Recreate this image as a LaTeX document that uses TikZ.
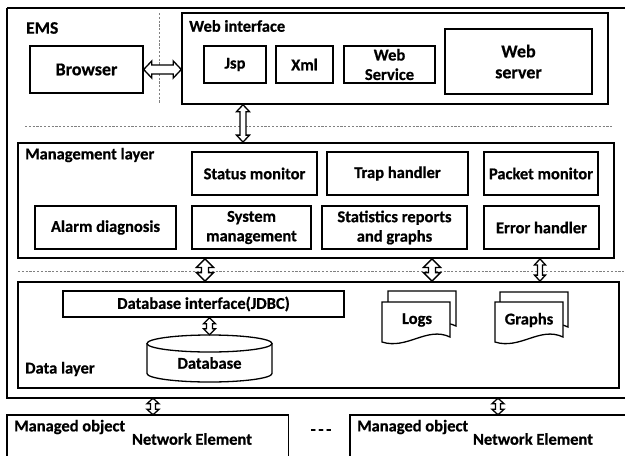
\documentclass[tikz,border=0pt]{standalone}
\usepackage{fontspec}
\setmainfont{Carlito}[BoldFeatures={FakeBold=0.6}]
\usetikzlibrary{calc}
\tikzset{
  txt/.style={font=\bfseries\fontsize{16.5}{19.5}\selectfont},
  lbl/.style={txt, inner sep=0pt, anchor=west},
  box/.style={draw, line width=1.4pt, fill=white, txt, align=center, inner sep=0pt},
  layer/.style={draw, line width=1.8pt, inner sep=0pt},
  frame/.style={line width=1.8pt},
  sepline/.style={draw=gray, dash pattern=on 2.2pt off 1.6pt, line width=0.7pt},
  docbox/.style={draw, line width=1.3pt, fill=white},
  harrow/.style n args={3}{draw, line width=1.3pt, fill=white, to path={
    -- ($(\tikztostart)!#1!(\tikztotarget)!#3!90:(\tikztotarget)$)
    -- ($(\tikztostart)!#1!(\tikztotarget)!#2!90:(\tikztotarget)$)
    -- ($(\tikztotarget)!#1!(\tikztostart)!#2!-90:(\tikztostart)$)
    -- ($(\tikztotarget)!#1!(\tikztostart)!#3!-90:(\tikztostart)$)
    -- (\tikztotarget)
    -- ($(\tikztotarget)!#1!(\tikztostart)!#3!90:(\tikztostart)$)
    -- ($(\tikztotarget)!#1!(\tikztostart)!#2!90:(\tikztostart)$)
    -- ($(\tikztostart)!#1!(\tikztotarget)!#2!-90:(\tikztotarget)$)
    -- ($(\tikztostart)!#1!(\tikztotarget)!#3!-90:(\tikztotarget)$)
    -- cycle}}
}
\newcommand\mydoc[2]{%
  \draw[docbox] (#1,#2) -- ++(68,0) -- ++(0,35)
    .. controls ++(-23,-11) and ++(25,8) .. ++(-68,5) -- cycle;}
\begin{document}
\begin{tikzpicture}[x=1pt,y=-1pt]
\useasboundingbox (0,0) rectangle (625,456);
\fill[white] (0,0) rectangle (625,456);

% EMS outer box (its right side lies beyond the picture)
\node[inner sep=0pt, minimum width=618, minimum height=390] (ems) at (316,203) {};
\draw[frame] (ems.north west) -- (625,0 |- ems.north);
\draw[frame] (ems.north west) -- (ems.south west) -- (625,0 |- ems.south);
\node[lbl, font=\bfseries\fontsize{17.5}{20}\selectfont] (emslbl) at (26,28) {EMS};

% separators
\draw[sepline] (159,13) -- (159,103);
\draw[sepline] (25,126) -- (612,126);
\draw[sepline] (18,271) -- (625,271);

% browser + web interface
\node[box, minimum width=113, minimum height=47, font=\bfseries\fontsize{18}{21}\selectfont] (browser) at (86.5,69.5) {Browser};
\node[layer, line width=1.4pt, minimum width=426, minimum height=91] (web) at (395,58.5) {};
\node[lbl] (weblbl) at (189,26) {Web interface};
\node[box, minimum width=62, minimum height=37] (jsp) at (235,64.5) {Jsp};
\node[box, minimum width=57, minimum height=37] (xml) at (304.5,64.5) {Xml};
\node[box, minimum width=91, minimum height=37] (ws) at (389.5,64.5) {Web\\Service};
\node[box, minimum width=147, minimum height=65, font=\bfseries\fontsize{18}{21}\selectfont] (wsrv) at (518.5,61.5) {Web\\server};

% management layer
\node[layer, minimum width=596, minimum height=115] (mgmt) at (316,200.5) {};
\node[lbl] (mgmtlbl) at (25,155) {Management layer};
\node[box, minimum width=125, minimum height=43] (status) at (254.5,173.5) {Status monitor};
\node[box, minimum width=141, minimum height=43] (trap) at (397.5,173.5) {Trap handler};
\node[box, minimum width=114, minimum height=43] (packet) at (541,173.5) {Packet monitor};
\node[box, minimum width=141, minimum height=43] (alarm) at (105.5,227.5) {Alarm diagnosis};
\node[box, minimum width=119, minimum height=43] (sysm) at (251.5,227.5) {System\\management};
\node[box, minimum width=145, minimum height=43] (stats) at (394.5,227.5) {Statistics reports\\and graphs};
\node[box, minimum width=115, minimum height=43] (err) at (541.5,227.5) {Error handler};

% data layer
\node[layer, minimum width=601, minimum height=106] (data) at (318.5,335) {};
\node[lbl] (datalbl) at (25,369) {Data layer};
\node[box, minimum width=281, minimum height=26] (jdbc) at (203.5,304) {Database interface(JDBC)};
% database cylinder
\draw[line width=1.3pt, fill=white] (147,343.5) -- (147,373.5)
  .. controls (147,378.2) and (175,382) .. (209.5,382)
  .. controls (244,382) and (272,378.2) .. (272,373.5) -- (272,343.5);
\draw[line width=1.3pt, fill=white] (209.5,343.5) ellipse [x radius=62.5, y radius=8.5];
\node[txt, inner sep=0pt, minimum width=125, minimum height=47] (db) at (209.5,358.5) {};
\node[txt, inner sep=0pt] (dbtxt) at (209.5,363) {Database};
% logs and graphs
\mydoc{388}{291}
\mydoc{382}{302}
\mydoc{500}{292}
\mydoc{495}{302}
\node[txt, inner sep=0pt] (logs) at (417,320) {Logs};
\node[txt, inner sep=0pt] (graphs) at (529,320) {Graphs};

% managed objects (lower and right sides lie beyond the picture)
\node[inner sep=0pt, minimum width=281, minimum height=41] (mo1) at (147.5,435.5) {};
\draw[line width=1.4pt] (mo1.south west) -- (mo1.north west) -- (mo1.north east) -- (mo1.south east);
\node[lbl] (mo1lbl) at (14,427) {Managed object};
\node[txt, inner sep=0pt] (ne1) at (192,439) {Network Element};
\node[inner sep=0pt, minimum width=275, minimum height=41] (mo2) at (487.5,435.5) {};
\draw[line width=1.4pt] (mo2.south west) -- (mo2.north west) -- (mo2.north east);
\node[lbl] (mo2lbl) at (357,427) {Managed object};
\node[txt, inner sep=0pt] (ne2) at (533,439) {Network Element};
\node[txt, inner sep=0pt] (dots) at (321,432) {-\,-\,-};

% arrow anchor coordinates
\coordinate (xa) at (243,0);
\coordinate (xb) at (205,0);
\coordinate (xc) at (432,0);
\coordinate (xd) at (540,0);
\coordinate (xe) at (153,0);
\coordinate (xf) at (498,0);
\coordinate (a1s) at (browser.east);
\coordinate (a1t) at (browser.east -| web.west);
\coordinate (a2s) at (xa |- web.south);
\coordinate (a2t) at (xa |- mgmt.north);
\coordinate (a3s) at (xb |- mgmt.south);
\coordinate (a3t) at (xb |- data.north);
\coordinate (a4s) at (xc |- mgmt.south);
\coordinate (a4t) at (xc |- data.north);
\coordinate (a5s) at (xd |- mgmt.south);
\coordinate (a5t) at (xd |- data.north);
\coordinate (a6s) at (db.north |- jdbc.south);
\coordinate (a6t) at (db.north);
\coordinate (a7s) at (xe |- ems.south);
\coordinate (a7t) at (xe |- mo1.north);
\coordinate (a8s) at (xf |- ems.south);
\coordinate (a8t) at (xf |- mo2.north);

% hollow double arrows
\draw[harrow={8pt}{4.5pt}{8.5pt}] (a1s) to (a1t);
\draw[harrow={7pt}{3pt}{6.5pt}] (a2s) to (a2t);
\draw[harrow={8.5pt}{3.5pt}{8.5pt}] (a3s) to (a3t);
\draw[harrow={8.5pt}{3.5pt}{8.5pt}] (a4s) to (a4t);
\draw[harrow={6pt}{2.5pt}{5.5pt}] (a5s) to (a5t);
\draw[harrow={6pt}{3pt}{6pt}] (a6s) to (a6t);
\draw[harrow={5.5pt}{2.5pt}{6pt}] (a7s) to (a7t);
\draw[harrow={5.5pt}{2.5pt}{6pt}] (a8s) to (a8t);
\end{tikzpicture}
\end{document}
